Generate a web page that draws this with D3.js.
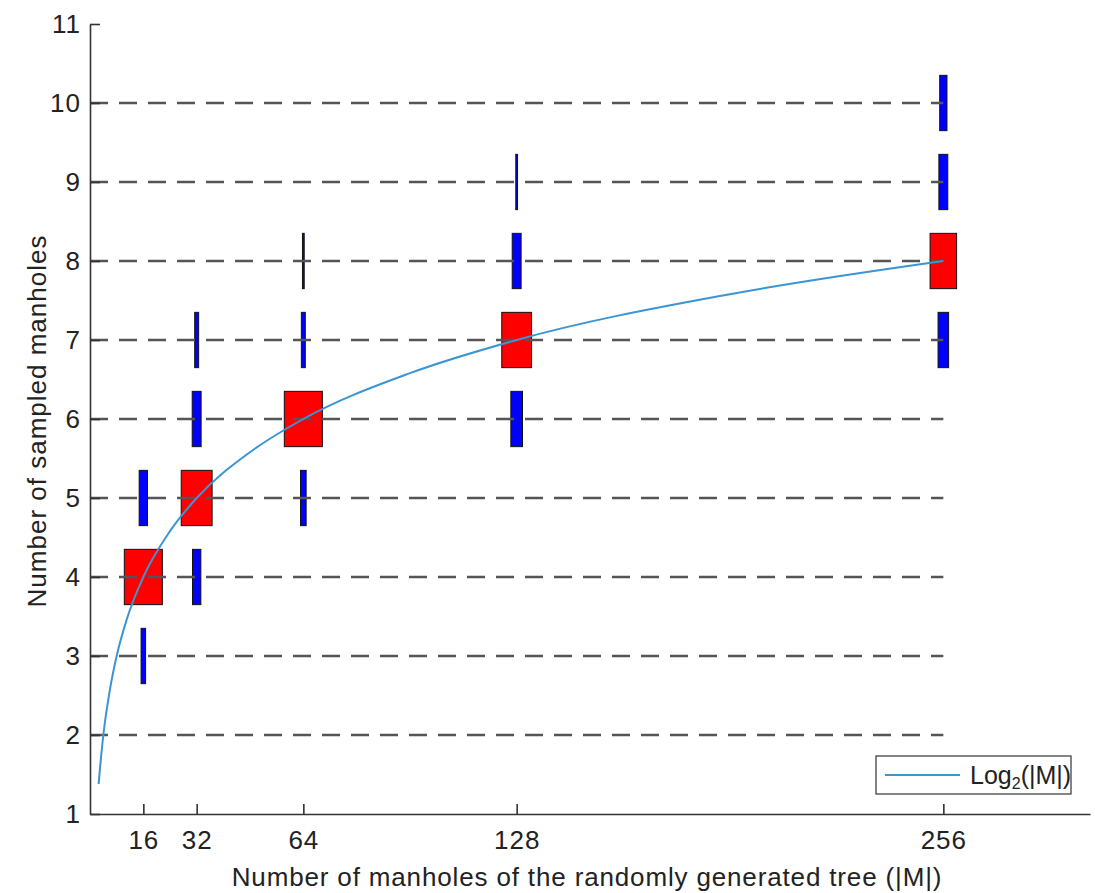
<!DOCTYPE html>
<html>
<head>
<meta charset="utf-8">
<script src="https://cdn.jsdelivr.net/npm/d3@7"></script>
<style>
  body { margin: 0; background: #fff; }
  text { font-family: "Liberation Sans", Arial, sans-serif; fill: #222; }
</style>
</head>
<body>
<div id="chart"></div>
<script>
// manholes in the tree (|M|), tick labels
const xTicks = [16, 32, 64, 128, 256];
const yTicks = [1, 2, 3, 4, 5, 6, 7, 8, 9, 10, 11];
const gridLevels = [2, 3, 4, 5, 6, 7, 8, 9, 10];

// one entry per box: |M|, sampled manholes, share of runs (%)
const boxM       = [16, 16, 16, 32, 32, 32, 32, 64, 64, 64, 64, 128, 128, 128, 128, 256, 256, 256, 256];
const boxSampled = [ 3,  4,  5,  4,  5,  6,  7,  5,  6,  7,  8,   6,   7,   8,   9,   7,   8,   9,  10];
const boxShare   = [10, 71, 17, 17, 58, 18,  9, 12, 71,  9,  5,  23,  56,  18,   5,  21,  50,  18,  15];

// reference curve Log2(|M|)
const curveM   = [2.6, 3, 4, 6, 8, 11, 16, 24, 32, 48, 64, 96, 128, 192, 256];
const curveLog = [1.38, 1.58, 2, 2.58, 3, 3.46, 4, 4.58, 5, 5.58, 6, 6.58, 7, 7.58, 8];

const width = 1095;
const height = 893;

const svg = d3.select("#chart").append("svg")
    .attr("width", width)
    .attr("height", height);

const x = d3.scaleLinear().domain([0, 300]).range([90, 1090]);
const y = d3.scaleLinear().domain([1, 11]).range([814, 24]);
const w = d3.scaleLinear().domain([0, 100]).range([0, 55]);

const boxes = boxM.map((m, i) => ({m: m, s: boxSampled[i], share: boxShare[i]}));
const modeShare = d3.rollup(boxes, v => d3.max(v, d => d.share), d => d.m);

// boxes
svg.append("g").selectAll("rect")
    .data(boxes)
    .enter().append("rect")
    .attr("x", d => x(d.m) - Math.max(w(d.share) - 1, 1) / 2)
    .attr("y", d => y(d.s + 0.35))
    .attr("width", d => Math.max(w(d.share) - 1, 1))
    .attr("height", d => y(d.s - 0.35) - y(d.s + 0.35))
    .attr("fill", d => d.share === modeShare.get(d.m) ? "#ff0000" : "#0000ff")
    .attr("stroke", "#111")
    .attr("stroke-width", 1);

// dashed grid
svg.append("g").selectAll("line")
    .data(gridLevels)
    .enter().append("line")
    .attr("x1", x(0))
    .attr("x2", x(256))
    .attr("y1", d => y(d))
    .attr("y2", d => y(d))
    .attr("stroke", "#555")
    .attr("stroke-width", 2.5)
    .attr("stroke-dasharray", "18,11");

// log curve
const line = d3.line()
    .x((d, i) => x(curveM[i]))
    .y(d => y(d))
    .curve(d3.curveMonotoneX);

svg.append("path")
    .datum(curveLog)
    .attr("d", line)
    .attr("fill", "none")
    .attr("stroke", "#3b95d3")
    .attr("stroke-width", 2);

// axes
const xAxis = d3.axisBottom(x)
    .tickValues(xTicks)
    .tickSizeInner(-10)
    .tickSizeOuter(0)
    .tickPadding(17);

const yAxis = d3.axisLeft(y)
    .tickValues(yTicks)
    .tickSizeInner(-10)
    .tickSizeOuter(0)
    .tickPadding(9);

const gx = svg.append("g")
    .attr("transform", `translate(0,${y(1)})`)
    .call(xAxis);

const gy = svg.append("g")
    .attr("transform", `translate(${x(0)},0)`)
    .call(yAxis);

[gx, gy].forEach(g => {
    g.select(".domain").attr("stroke", "#333").attr("stroke-width", 1.6);
    g.selectAll(".tick line").attr("stroke", "#333").attr("stroke-width", 1.6);
    g.selectAll(".tick text")
        .attr("fill", "#222")
        .style("font-size", "26px")
        .style("letter-spacing", "1px")
        .style("font-family", "'Liberation Sans', Arial, sans-serif");
});

// axis titles
svg.append("text")
    .attr("x", 587)
    .attr("y", 886)
    .attr("text-anchor", "middle")
    .style("font-size", "26px")
    .style("letter-spacing", "0.85px")
    .text("Number of manholes of the randomly generated tree (|M|)");

svg.append("text")
    .attr("transform", "translate(46,421) rotate(-90)")
    .attr("text-anchor", "middle")
    .style("font-size", "26px")
    .style("letter-spacing", "1px")
    .text("Number of sampled manholes");

// legend
const legend = svg.append("g");
legend.append("rect")
    .attr("x", 876)
    .attr("y", 756)
    .attr("width", 195)
    .attr("height", 38)
    .attr("fill", "#fff")
    .attr("stroke", "#333")
    .attr("stroke-width", 1.2);
legend.append("line")
    .attr("x1", 885)
    .attr("x2", 960)
    .attr("y1", 775)
    .attr("y2", 775)
    .attr("stroke", "#3b95d3")
    .attr("stroke-width", 2);
const lt = legend.append("text")
    .attr("x", 970)
    .attr("y", 784)
    .style("font-size", "25px");
lt.append("tspan").text("Log");
lt.append("tspan").attr("dy", 5).style("font-size", "16px").text("2");
lt.append("tspan").attr("dy", -5).text("(|M|)");
</script>
</body>
</html>
